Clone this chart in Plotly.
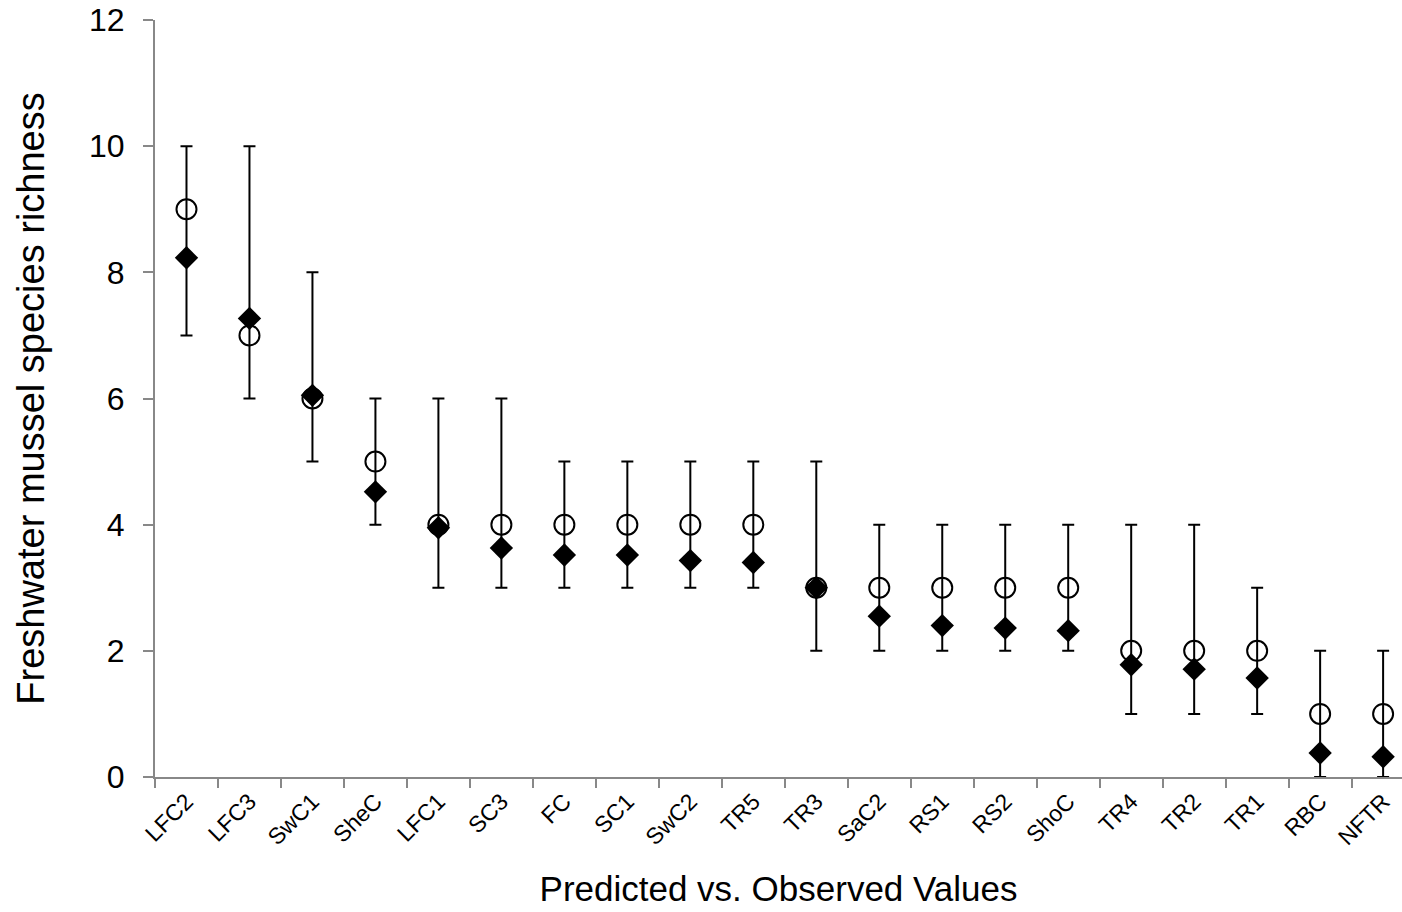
import plotly.graph_objects as go

# Sites ordered by predicted richness
sites = ["LFC2", "LFC3", "SwC1", "SheC", "LFC1", "SC3", "FC", "SC1", "SwC2", "TR5",
         "TR3", "SaC2", "RS1", "RS2", "ShoC", "TR4", "TR2", "TR1", "RBC", "NFTR"]
observed = [9, 7, 6, 5, 4, 4, 4, 4, 4, 4, 3, 3, 3, 3, 3, 2, 2, 2, 1, 1]
predicted = [8.23, 7.27, 6.05, 4.52, 3.95, 3.63, 3.52, 3.52, 3.43, 3.40,
             3.00, 2.55, 2.40, 2.36, 2.32, 1.78, 1.71, 1.57, 0.38, 0.32]
pred_low = [7, 6, 5, 4, 3, 3, 3, 3, 3, 3, 2, 2, 2, 2, 2, 1, 1, 1, 0, 0]
pred_high = [10, 10, 8, 6, 6, 6, 5, 5, 5, 5, 5, 4, 4, 4, 4, 4, 4, 3, 2, 2]

err_plus = [h - p for h, p in zip(pred_high, predicted)]
err_minus = [p - l for p, l in zip(predicted, pred_low)]

fig = go.Figure()

fig.add_trace(go.Scatter(
    x=sites, y=observed, mode="markers", name="Observed",
    marker=dict(symbol="circle-open", size=20, color="black", line=dict(width=2, color="black")),
    cliponaxis=False,
))

fig.add_trace(go.Scatter(
    x=sites, y=predicted, mode="markers", name="Predicted",
    marker=dict(symbol="diamond", size=18, color="black"),
    error_y=dict(type="data", symmetric=False, array=err_plus, arrayminus=err_minus,
                 color="black", thickness=2, width=6),
    cliponaxis=False,
))

fig.update_layout(
    width=1402, height=912,
    margin=dict(l=155, r=0, t=20, b=135),
    plot_bgcolor="white", paper_bgcolor="white",
    showlegend=False,
    font=dict(family="Liberation Sans, Arial, sans-serif", color="black"),
)

fig.update_xaxes(
    type="category", range=[-0.5, 19.3],
    showline=True, linecolor="#888888", linewidth=2,
    ticks="outside", tickson="boundaries", ticklen=9, tickcolor="#888888", tickwidth=2,
    tickangle=-45, tickfont=dict(size=23),
    showgrid=False, zeroline=False,
    title=dict(text="Predicted vs. Observed Values", font=dict(size=35), standoff=27),
)

fig.update_yaxes(
    range=[0, 12], tickvals=[0, 2, 4, 6, 8, 10, 12],
    showline=True, linecolor="#888888", linewidth=2,
    ticks="outside", ticklen=10, tickcolor="#888888", tickwidth=2,
    tickfont=dict(size=32), ticklabelstandoff=12,
    showgrid=False, zeroline=False,
    title=dict(text="Freshwater mussel species richness", font=dict(size=38), standoff=33),
)

fig.write_html("out.html")
